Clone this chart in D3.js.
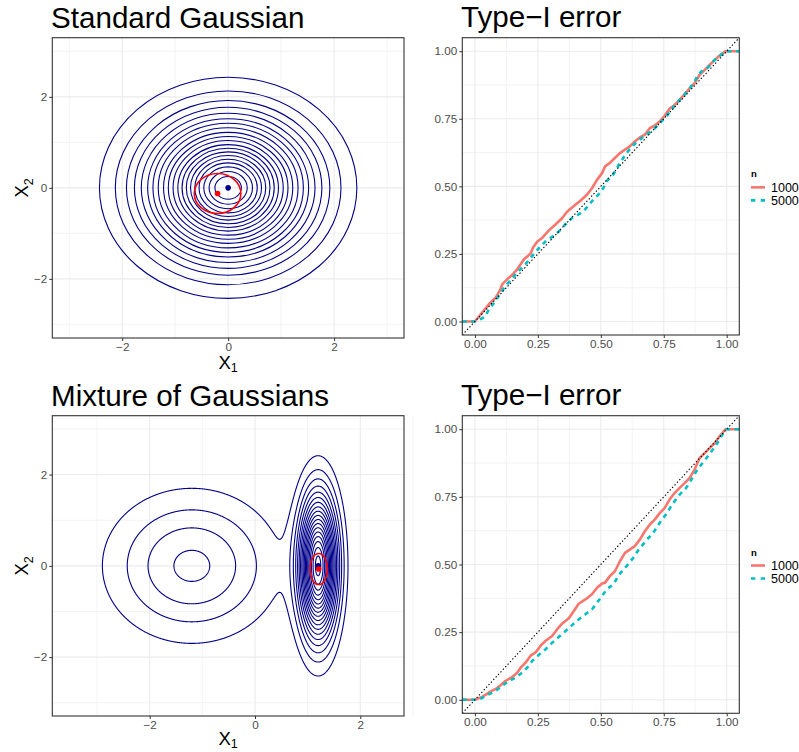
<!DOCTYPE html>
<html>
<head>
<meta charset="utf-8">
<script src="https://cdn.jsdelivr.net/npm/d3@7"></script>
<style>
  body { margin: 0; background: #fff; }
  svg { font-family: "Liberation Sans", Arial, Helvetica, sans-serif; }
</style>
</head>
<body>
<svg id="chart" width="799" height="752"></svg>
<script>
// ---- standard gaussian: contour radii (data units)
var gaussRadii = [2.43, 2.13, 1.92, 1.77, 1.64, 1.52, 1.42, 1.32, 1.22, 1.13,
                  1.04, 0.95, 0.87, 0.79, 0.71, 0.63, 0.55, 0.46, 0.36, 0.25];
var gaussMode = [0, 0];
var gaussEst = [-0.2, -0.125];
var gaussEstRadius = [0.44, 0.44];

// ---- mixture of gaussians: component parameters and contour levels
var mixWeights = [0.5, 0.5];
var mixMeans = [[-1.2, 0], [1.2, 0]];
var mixSds = [[1, 1], [0.233, 1]];
var mixLevels = [0.0188, 0.0375, 0.0563, 0.0751, 0.0939, 0.1126, 0.1314, 0.1502, 0.1689,
                 0.1877, 0.2065, 0.2252, 0.2440, 0.2628, 0.2816, 0.3003, 0.3191, 0.3379];
var mixMode = [1.2, 0];
var mixEst = [1.21, -0.07];
var mixEstRadius = [0.165, 0.34];

// ---- type-I error curves [nominal, empirical]
var topN1000 = [[-0.05,0],[0,0],[0.030,0.034],[0.057,0.065],[0.083,0.089],[0.099,0.114],[0.109,0.138],
  [0.129,0.157],[0.149,0.173],[0.169,0.194],[0.195,0.230],[0.221,0.251],[0.231,0.274],[0.248,0.296],
  [0.268,0.310],[0.294,0.337],[0.320,0.359],[0.347,0.383],[0.366,0.406],[0.393,0.427],[0.419,0.447],
  [0.445,0.469],[0.465,0.493],[0.485,0.524],[0.505,0.549],[0.517,0.574],[0.536,0.587],[0.556,0.605],
  [0.576,0.623],[0.596,0.636],[0.615,0.648],[0.635,0.666],[0.655,0.681],[0.675,0.691],[0.694,0.715],
  [0.714,0.725],[0.734,0.740],[0.754,0.762],[0.773,0.787],[0.793,0.801],[0.813,0.820],[0.833,0.841],
  [0.853,0.863],[0.872,0.881],[0.892,0.912],[0.912,0.930],[0.932,0.949],[0.952,0.967],[0.971,0.983],
  [0.995,1.0],[1.05,1.0]];
var topN5000 = [[-0.05,0],[0,0],[0.025,0.010],[0.038,0.016],[0.057,0.046],[0.083,0.077],[0.103,0.108],
  [0.122,0.132],[0.149,0.160],[0.175,0.188],[0.201,0.212],[0.228,0.243],[0.254,0.271],[0.280,0.296],
  [0.307,0.313],[0.333,0.333],[0.359,0.359],[0.386,0.383],[0.412,0.396],[0.438,0.415],[0.465,0.445],
  [0.491,0.470],[0.510,0.494],[0.523,0.519],[0.549,0.543],[0.576,0.587],[0.602,0.623],[0.629,0.652],
  [0.655,0.673],[0.681,0.691],[0.708,0.709],[0.734,0.734],[0.760,0.758],[0.780,0.783],[0.800,0.807],
  [0.826,0.832],[0.853,0.863],[0.872,0.887],[0.886,0.912],[0.905,0.930],[0.925,0.939],[0.945,0.961],
  [0.965,0.979],[0.984,0.991],[0.998,1.0],[1.05,1.0]];
var botN1000 = [[-0.05,0],[0,0],[0.024,0.009],[0.044,0.019],[0.063,0.031],[0.083,0.040],[0.103,0.055],
  [0.122,0.070],[0.149,0.085],[0.169,0.101],[0.182,0.119],[0.202,0.138],[0.221,0.163],[0.241,0.175],
  [0.261,0.200],[0.281,0.218],[0.307,0.236],[0.327,0.261],[0.347,0.282],[0.373,0.301],[0.393,0.328],
  [0.412,0.355],[0.439,0.371],[0.465,0.390],[0.485,0.414],[0.505,0.430],[0.517,0.433],[0.536,0.457],
  [0.556,0.475],[0.576,0.512],[0.596,0.543],[0.615,0.555],[0.635,0.568],[0.655,0.592],[0.675,0.623],
  [0.694,0.647],[0.714,0.666],[0.734,0.690],[0.754,0.709],[0.773,0.740],[0.793,0.764],[0.813,0.783],
  [0.833,0.801],[0.853,0.820],[0.872,0.850],[0.892,0.893],[0.912,0.911],[0.932,0.930],[0.952,0.948],
  [0.971,0.973],[0.995,1.0],[1.05,1.0]];
var botN5000 = [[-0.05,0],[0,0],[0.017,0.002],[0.037,0.011],[0.057,0.021],[0.083,0.033],[0.109,0.052],
  [0.136,0.070],[0.162,0.082],[0.188,0.101],[0.208,0.119],[0.228,0.144],[0.254,0.166],[0.281,0.187],
  [0.307,0.211],[0.333,0.232],[0.360,0.254],[0.386,0.276],[0.412,0.297],[0.439,0.316],[0.465,0.334],
  [0.485,0.359],[0.505,0.383],[0.523,0.408],[0.549,0.426],[0.576,0.466],[0.602,0.494],[0.629,0.525],
  [0.655,0.561],[0.681,0.589],[0.708,0.617],[0.734,0.654],[0.760,0.687],[0.787,0.727],[0.813,0.758],
  [0.839,0.783],[0.859,0.813],[0.879,0.844],[0.899,0.869],[0.919,0.893],[0.939,0.918],[0.958,0.942],
  [0.978,0.973],[0.991,0.991],[0.998,1.0],[1.05,1.0]];

var seriesNames = ["1000", "5000"];
var seriesColors = ["#F8766D", "#00BFC4"];
var gaussTicks = [-2, 0, 2], gaussMinor = [-3, -1, 1, 3];
var probTicks = [0, 0.25, 0.5, 0.75, 1], probMinor = [0.125, 0.375, 0.625, 0.875];

var svg = d3.select("#chart");
var defs = svg.append("defs");
var clipId = 0;

// draws background grid, returns a clipped group for the data
function panel(x, y, xMajor, xMinor, yMajor, yMinor) {
  var g = svg.append("g");
  var x0 = x.range()[0], x1 = x.range()[1], y0 = y.range()[1], y1 = y.range()[0];
  g.selectAll(".vmin").data(xMinor).enter().append("line")
    .attr("x1", d => x(d)).attr("x2", d => x(d)).attr("y1", y0).attr("y2", y1)
    .attr("stroke", "#EBEBEB").attr("stroke-width", 0.6);
  g.selectAll(".hmin").data(yMinor).enter().append("line")
    .attr("y1", d => y(d)).attr("y2", d => y(d)).attr("x1", x0).attr("x2", x1)
    .attr("stroke", "#EBEBEB").attr("stroke-width", 0.6);
  g.selectAll(".vmaj").data(xMajor).enter().append("line")
    .attr("x1", d => x(d)).attr("x2", d => x(d)).attr("y1", y0).attr("y2", y1)
    .attr("stroke", "#EBEBEB").attr("stroke-width", 1.1);
  g.selectAll(".hmaj").data(yMajor).enter().append("line")
    .attr("y1", d => y(d)).attr("y2", d => y(d)).attr("x1", x0).attr("x2", x1)
    .attr("stroke", "#EBEBEB").attr("stroke-width", 1.1);
  var id = "clip" + (clipId++);
  defs.append("clipPath").attr("id", id).append("rect")
    .attr("x", x0).attr("y", y0).attr("width", x1 - x0).attr("height", y1 - y0);
  return g.append("g").attr("clip-path", "url(#" + id + ")");
}

function frame(x, y, xMajor, yMajor, fmt) {
  var x0 = x.range()[0], x1 = x.range()[1], y0 = y.range()[1], y1 = y.range()[0];
  svg.append("rect").attr("x", x0).attr("y", y0).attr("width", x1 - x0).attr("height", y1 - y0)
    .attr("fill", "none").attr("stroke", "#333333").attr("stroke-width", 1.1);
  var ax = svg.append("g").attr("transform", "translate(0," + y1 + ")")
    .call(d3.axisBottom(x).tickValues(xMajor).tickFormat(fmt).tickSize(3).tickPadding(1.5));
  var ay = svg.append("g").attr("transform", "translate(" + x0 + ",0)")
    .call(d3.axisLeft(y).tickValues(yMajor).tickFormat(fmt).tickSize(3).tickPadding(2));
  [ax, ay].forEach(function(a) {
    a.select(".domain").remove();
    a.selectAll(".tick line").attr("stroke", "#333333").attr("stroke-width", 1);
    a.selectAll(".tick text").attr("fill", "#4D4D4D").attr("font-size", 11.7)
      .attr("font-family", "Liberation Sans, Arial, sans-serif");
  });
}

function title(xpos, ypos, txt) {
  svg.append("text").attr("x", xpos).attr("y", ypos).attr("font-size", 29.6)
    .attr("fill", "#000").text(txt);
}

function axisTitles(x, y, sub1, sub2, gap) {
  var cx = (x.range()[0] + x.range()[1]) / 2, cy = (y.range()[0] + y.range()[1]) / 2;
  var t1 = svg.append("text").attr("x", cx).attr("y", y.range()[0] + gap)
    .attr("text-anchor", "middle").attr("font-size", 18.5).text("X");
  t1.append("tspan").attr("font-size", 12.5).attr("dy", 3.5).text(sub1);
  var t2 = svg.append("text").attr("transform", "translate(28," + cy + ") rotate(-90)")
    .attr("text-anchor", "middle").attr("font-size", 18.5).text("X");
  t2.append("tspan").attr("font-size", 12.5).attr("dy", 4.5).text(sub2);
}

function estimate(g, x, y, mode, est, rad) {
  g.append("ellipse").attr("cx", x(est[0])).attr("cy", y(est[1]))
    .attr("rx", x(rad[0]) - x(0)).attr("ry", y(0) - y(rad[1]))
    .attr("fill", "none").attr("stroke", "#FF0000").attr("stroke-width", 1.6);
  g.append("circle").attr("cx", x(mode[0])).attr("cy", y(mode[1])).attr("r", 2.8).attr("fill", "#00008B");
  g.append("circle").attr("cx", x(est[0])).attr("cy", y(est[1])).attr("r", 2.8).attr("fill", "#FF0000");
}

// ---------- top left: standard gaussian
var xG = d3.scaleLinear().domain([-3.32, 3.32]).range([52.3, 404]);
var yG = d3.scaleLinear().domain([-3.3, 3.3]).range([338, 37.7]);
var gG = panel(xG, yG, gaussTicks, gaussMinor, gaussTicks, gaussMinor);
gG.selectAll(".ring").data(gaussRadii).enter().append("ellipse")
  .attr("cx", xG(gaussMode[0])).attr("cy", yG(gaussMode[1]))
  .attr("rx", d => xG(d) - xG(0)).attr("ry", d => yG(0) - yG(d))
  .attr("fill", "none").attr("stroke", "#00008B").attr("stroke-width", 1.1);
estimate(gG, xG, yG, gaussMode, gaussEst, gaussEstRadius);
frame(xG, yG, gaussTicks, gaussTicks, d3.format("d"));
title(51, 27.5, "Standard Gaussian");
axisTitles(xG, yG, "1", "2", 30.5);

// ---------- bottom left: mixture
var xM = d3.scaleLinear().domain([-3.85, 2.83]).range([52.3, 404]);
var yM = d3.scaleLinear().domain([-3.29, 3.29]).range([716, 415.7]);
var gM = panel(xM, yM, gaussTicks, [-3, -1, 1, 3], gaussTicks, gaussMinor);

function mixDensity(px, py) {
  var s = 0;
  for (var k = 0; k < mixWeights.length; k++) {
    var dx = (px - mixMeans[k][0]) / mixSds[k][0], dy = (py - mixMeans[k][1]) / mixSds[k][1];
    s += mixWeights[k] / (2 * Math.PI * mixSds[k][0] * mixSds[k][1]) * Math.exp(-(dx * dx + dy * dy) / 2);
  }
  return s;
}
var nx = 760, ny = 680;
var gx0 = xM.domain()[0], gy0 = yM.domain()[0];
var sx = (xM.domain()[1] - gx0) / (nx - 1), sy = (yM.domain()[1] - gy0) / (ny - 1);
var grid = new Float64Array(nx * ny);
for (var j = 0; j < ny; j++)
  for (var i = 0; i < nx; i++)
    grid[j * nx + i] = mixDensity(gx0 + i * sx, gy0 + j * sy);
var iso = d3.contours().size([nx, ny]).thresholds(mixLevels)(grid);
var proj = d3.geoTransform({
  point: function(a, b) { this.stream.point(xM(gx0 + (a - 0.5) * sx), yM(gy0 + (b - 0.5) * sy)); }
});
gM.selectAll(".iso").data(iso).enter().append("path")
  .attr("d", d3.geoPath(proj))
  .attr("fill", "none").attr("stroke", "#00008B").attr("stroke-width", 1.1);
estimate(gM, xM, yM, mixMode, mixEst, mixEstRadius);
frame(xM, yM, gaussTicks, gaussTicks, d3.format("d"));
title(51, 405.5, "Mixture of Gaussians");
axisTitles(xM, yM, "1", "2", 28.5);

// ---------- type-I error panels
function typeI(top, bottom, s1000, s5000) {
  var x = d3.scaleLinear().domain([-0.05, 1.05]).range([462.3, 739.3]);
  var y = d3.scaleLinear().domain([-0.05, 1.05]).range([bottom, top]);
  var g = panel(x, y, probTicks, probMinor, probTicks, probMinor);
  var line = d3.line().x(d => x(d[0])).y(d => y(d[1]));
  g.append("path").datum(s1000).attr("d", line).attr("fill", "none")
    .attr("stroke", seriesColors[0]).attr("stroke-width", 2.6).attr("stroke-linejoin", "round");
  g.append("path").datum(s5000).attr("d", line).attr("fill", "none")
    .attr("stroke", seriesColors[1]).attr("stroke-width", 2.6).attr("stroke-dasharray", "4.5,4.5");
  g.append("path").datum([[-0.05, -0.05], [1.05, 1.05]]).attr("d", line).attr("fill", "none")
    .attr("stroke", "#000").attr("stroke-width", 1.1).attr("stroke-dasharray", "1.4,2.1");
  frame(x, y, probTicks, probTicks, d3.format(".2f"));
  title(461, top - 10.3, "Type\u2212I error");

  var cy = (top + bottom) / 2;
  var lg = svg.append("g");
  lg.append("text").attr("x", 751).attr("y", cy - 9).attr("font-size", 9.5)
    .attr("font-weight", "bold").text("n");
  seriesNames.forEach(function(name, k) {
    var ly = cy + 1 + k * 13;
    lg.append("line").attr("x1", 751).attr("x2", 765).attr("y1", ly).attr("y2", ly)
      .attr("stroke", seriesColors[k]).attr("stroke-width", 2.6)
      .attr("stroke-dasharray", k === 1 ? "4.3,5.4" : null);
    lg.append("text").attr("x", 771).attr("y", ly + 4.3).attr("font-size", 12.5).text(name);
  });
}
typeI(37.7, 335, topN1000, topN5000);
typeI(415.7, 713.3, botN1000, botN5000);
</script>
</body>
</html>
